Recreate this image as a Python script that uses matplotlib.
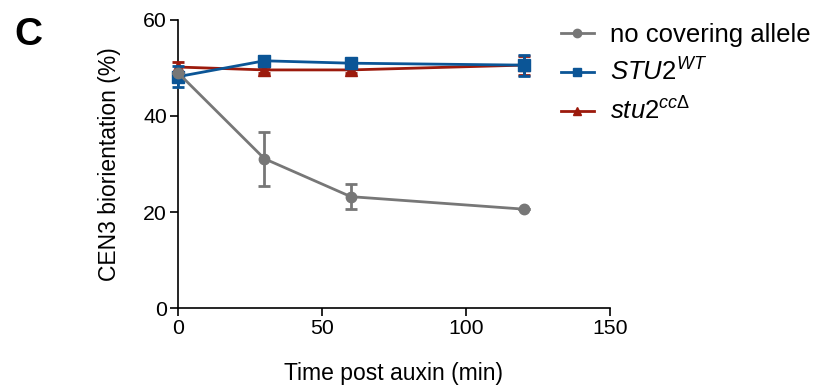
import matplotlib
matplotlib.use("Agg")
import matplotlib.pyplot as plt

plt.rcParams['font.family'] = ['Liberation Sans', 'DejaVu Sans']
plt.rcParams['mathtext.fontset'] = 'custom'
plt.rcParams['mathtext.rm'] = 'Liberation Sans'
plt.rcParams['mathtext.it'] = 'Liberation Sans:italic'

time = [0, 30, 60, 120]

none_mean = [49.0, 31.1, 23.2, 20.6]
none_err = [0.0, 5.6, 2.6, 0.0]

wt_mean = [48.2, 51.5, 51.0, 50.6]
wt_err = [2.2, 1.0, 0.6, 2.2]

cc_mean = [50.2, 49.6, 49.6, 50.6]
cc_err = [1.0, 0.6, 0.6, 2.0]

labels = ['no covering allele', r'$\it{STU2}^{\it{WT}}$', r'$\it{stu2}^{\it{cc\Delta}}$']
colors = ['#777777', '#0b5596', '#9c1a0c']

fig = plt.figure(figsize=(8.17, 3.89), dpi=100)
ax = fig.add_axes([0.2179, 0.2082, 0.5287, 0.7404])

kw = dict(linewidth=2, capsize=4.5, elinewidth=2, capthick=2, clip_on=False)
h_cc = ax.errorbar(time, cc_mean, yerr=cc_err, color=colors[2], marker='^',
                   markersize=8, zorder=3, **kw)
h_wt = ax.errorbar(time, wt_mean, yerr=wt_err, color=colors[1], marker='s',
                   markersize=8, zorder=4, **kw)
h_none = ax.errorbar(time, none_mean, yerr=none_err, color=colors[0], marker='o',
                     markersize=7.5, zorder=5, **kw)

ax.set_xlim(0, 150)
ax.set_ylim(0, 60)
ax.set_xticks([0, 50, 100, 150])
ax.set_yticks([0, 20, 40, 60])
for s in ['top', 'right']:
    ax.spines[s].set_visible(False)
for s in ['left', 'bottom']:
    ax.spines[s].set_linewidth(1.2)
ax.tick_params(direction='out', length=6, width=1.2, labelsize=15.3, pad=2)

ax.set_xlabel('Time post auxin (min)', fontsize=16.5, labelpad=17)
ax.set_ylabel('CEN3 biorientation (%)', fontsize=16.5, labelpad=16)

leg = fig.legend([h_none[0], h_wt[0], h_cc[0]], labels,
                 loc='upper left', bbox_to_anchor=(0.658, 1.0), frameon=False,
                 fontsize=18.5, handlelength=1.3, handletextpad=0.62,
                 labelspacing=0.45, markerscale=0.8)

fig.text(0.018, 0.885, 'C', fontsize=28, fontweight='bold')

fig.savefig('out.png', dpi=100)
